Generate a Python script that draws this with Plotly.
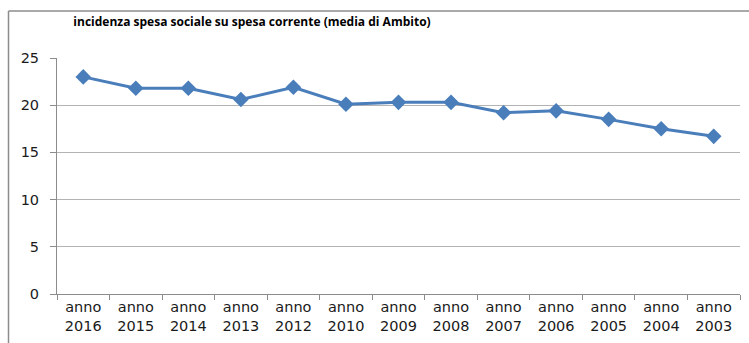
import plotly.graph_objects as go

# Incidenza della spesa sociale sulla spesa corrente, media di Ambito
anni = ["2016", "2015", "2014", "2013", "2012", "2010", "2009",
        "2008", "2007", "2006", "2005", "2004", "2003"]
incidenza = [23.0, 21.8, 21.8, 20.6, 21.9, 20.1, 20.3,
             20.3, 19.2, 19.4, 18.5, 17.5, 16.7]
etichette = ["anno<br>" + a for a in anni]

W, H = 749, 343
ML, MR, MT, MB = 57, 9, 58, 47
pw, ph = W - ML - MR, H - MT - MB

fig = go.Figure()
fig.add_trace(go.Scatter(
    x=etichette, y=incidenza, mode="lines+markers",
    line=dict(color="#4a7ebb", width=3),
    marker=dict(symbol="diamond", size=12, color="#4a7ebb"),
    hoverinfo="x+y",
))

# outer frame (left and top edges)
fx = (8.5 - ML) / pw
fy = (H - MB - 10.5) / ph
fig.add_shape(type="line", xref="paper", yref="paper", x0=fx, x1=fx,
              y0=(H - MB - H - 5) / ph, y1=fy,
              line=dict(color="#8c8c8c", width=1.5))
fig.add_shape(type="line", xref="paper", yref="paper", x0=fx, x1=(W + 5 - ML) / pw,
              y0=fy, y1=fy, line=dict(color="#8c8c8c", width=1.5))

tick_font = dict(family="DejaVu Sans, sans-serif", size=14.5, color="#1a1a1a")

fig.update_layout(
    width=W, height=H,
    margin=dict(l=ML, r=MR, t=MT, b=MB),
    paper_bgcolor="white", plot_bgcolor="white",
    showlegend=False,
    font=dict(family="DejaVu Sans, sans-serif", size=14, color="#1a1a1a"),
    title=dict(text="<b>incidenza spesa sociale su spesa corrente (media di Ambito)</b>",
               x=252 / W, xanchor="center", xref="container",
               y=1 - 22 / H, yanchor="middle", yref="container",
               font=dict(family="Open Sans, sans-serif", size=12, color="#000000")),
    xaxis=dict(
        type="category", tickson="boundaries", ticks="outside", ticklen=5,
        tickcolor="#8c8c8c", showline=True, linecolor="#8c8c8c", linewidth=1,
        showgrid=False, tickfont=tick_font,
        range=[-0.5, len(anni) - 0.5],
    ),
    yaxis=dict(
        range=[0, 25], dtick=5, ticks="outside", ticklen=6, tickcolor="#8c8c8c",
        showline=True, linecolor="#8c8c8c", linewidth=1,
        showgrid=True, gridcolor="#b3b3b3", gridwidth=1,
        zeroline=False, tickfont=tick_font,
        ticklabelstandoff=8,
    ),
)

fig.write_html("out.html")
